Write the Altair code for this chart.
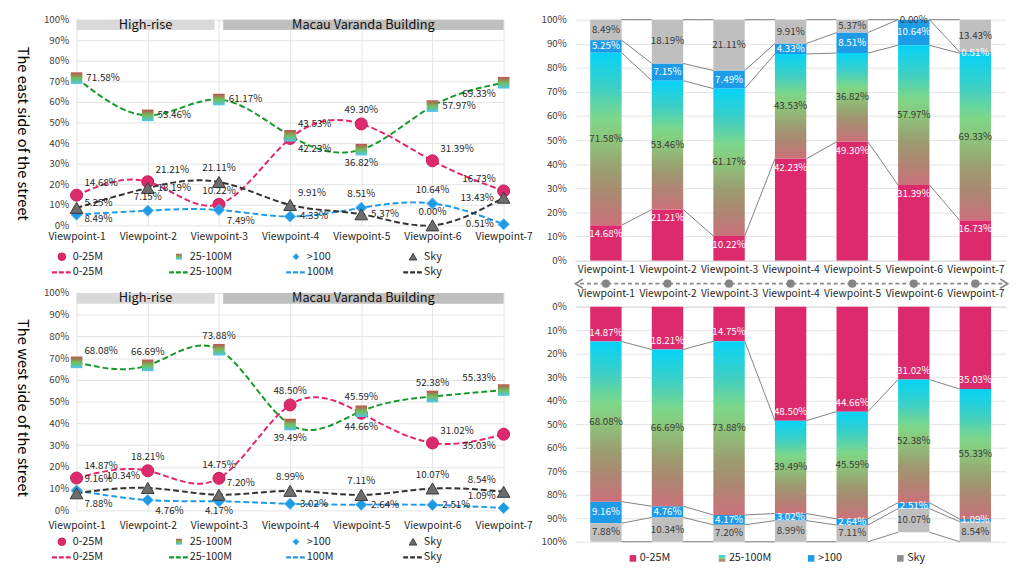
import json
import altair as alt
import pandas as pd

# ---------------- data ----------------
VIEWPOINTS = ["Viewpoint-1", "Viewpoint-2", "Viewpoint-3", "Viewpoint-4",
              "Viewpoint-5", "Viewpoint-6", "Viewpoint-7"]
SERIES = ["0-25M", "25-100M", ">100", "Sky"]
LINE_LEGEND = ["0-25M", "25-100M", "100M", "Sky"]
BAR_LEGEND = ["0-25M", "25-100M", ">100", "Sky"]
BUILDINGS = ["High-rise", "Macau Varanda Building"]
BUILDING_VIEWPOINTS = [[0, 1], [2, 3, 4, 5, 6]]
SIDE_TITLES = ["The east side of the street", "The west side of the street"]

EAST_0_25 = [14.68, 21.21, 10.22, 42.23, 49.30, 31.39, 16.73]
EAST_25_100 = [71.58, 53.46, 61.17, 43.53, 36.82, 57.97, 69.33]
EAST_GT100 = [5.25, 7.15, 7.49, 4.33, 8.51, 10.64, 0.51]
EAST_SKY = [8.49, 18.19, 21.11, 9.91, 5.37, 0.00, 13.43]

WEST_0_25 = [14.87, 18.21, 14.75, 48.50, 44.66, 31.02, 35.03]
WEST_25_100 = [68.08, 66.69, 73.88, 39.49, 45.59, 52.38, 55.33]
WEST_GT100 = [9.16, 4.76, 4.17, 3.02, 2.64, 2.51, 1.09]
WEST_SKY = [7.88, 10.34, 7.20, 8.99, 7.11, 10.07, 8.54]

# ---------------- styles ----------------
FONT = "Noto Sans CJK SC"
PINK = "#dc2a6c"
BLUE = "#1e9be6"
SKY_GRAY = "#bfbfbf"
LINE_COLORS = {"0-25M": "#e2256c", "25-100M": "#16982b", ">100": "#1f9ae8", "Sky": "#333333"}
BAR_FILL = {"0-25M": PINK, ">100": BLUE, "Sky": SKY_GRAY}
BAR_TEXT = {"0-25M": "#ffffff", "25-100M": "#3a3a3a", ">100": "#ffffff", "Sky": "#3a3a3a"}
GRID = "#e3e3e3"
TXT = "#262626"

BAR_GRAD = alt.Gradient(
    gradient="linear", x1=0, x2=0, y1=1, y2=0,
    stops=[alt.GradientStop(color="#cc717a", offset=0),
           alt.GradientStop(color="#b08473", offset=0.15),
           alt.GradientStop(color="#9d9a70", offset=0.3),
           alt.GradientStop(color="#8cc67a", offset=0.5),
           alt.GradientStop(color="#7cd78a", offset=0.62),
           alt.GradientStop(color="#3ccfc6", offset=0.8),
           alt.GradientStop(color="#05d3f7", offset=1)])
SQ_GRAD = alt.Gradient(
    gradient="linear", x1=0, x2=0, y1=0, y2=1,
    stops=[alt.GradientStop(color="#c0504d", offset=0),
           alt.GradientStop(color="#6fbf5a", offset=0.5),
           alt.GradientStop(color="#4dc6f0", offset=1)])

MARKER_STYLE = {
    "0-25M": dict(shape="circle", size=150, fill=PINK, stroke="#c41d5c", strokeWidth=1),
    "25-100M": dict(shape="square", size=140, fill=SQ_GRAD, strokeWidth=0),
    ">100": dict(shape="diamond", size=130, fill=BLUE, stroke="#5ab4ee", strokeWidth=1),
    "Sky": dict(shape="triangle-up", size=170, fill="#6d6d6d", stroke="#3a3a3a", strokeWidth=1),
}
LEGEND_MARKER_SIZE = {"0-25M": 60, "25-100M": 36, ">100": 40, "Sky": 60}

# where each data label sits relative to its marker
PLACE = {"a": (0, -14, "center"), "b": (0, 14, "center"), "bs": (0, 10, "center"),
         "r": (10, 0, "left"), "l": (-10, 0, "right"), "ar": (8, -12, "left"),
         "al": (-8, -12, "right"), "br": (8, 11, "left"), "bl": (-8, 12, "right")}
TOP_PLACE = {
    "0-25M": ["ar", "ar", "a", "br", "a", "ar", "al"],
    "25-100M": ["r", "r", "r", "ar", "b", "r", "bl"],
    ">100": ["ar", "a", "br", "r", "a", "a", "l"],
    "Sky": ["br", "r", "a", "ar", "r", "a", "l"],
}
BOTTOM_PLACE = {
    "0-25M": ["ar", "a", "a", "a", "b", "ar", "bl"],
    "25-100M": ["ar", "a", "a", "b", "a", "a", "al"],
    ">100": ["ar", "br", "bs", "r", "r", "r", "al"],
    "Sky": ["br", "al", "ar", "a", "a", "a", "al"],
}

LABEL_EXPR = "%s[datum.value]" % json.dumps(VIEWPOINTS)


def long_frame(cols):
    rows = []
    for s, vals in zip(SERIES, cols):
        for i, v in enumerate(vals):
            rows.append({"idx": i, "series": s, "value": v, "label": f"{v:.2f}%"})
    return pd.DataFrame(rows)


# ---------------- line charts ----------------
def x_line(field, pad):
    return alt.X(field, type="quantitative",
                 scale=alt.Scale(domain=[0, 6], nice=False, zero=False),
                 axis=alt.Axis(values=list(range(7)), labelExpr=LABEL_EXPR, title=None,
                               grid=True, gridColor=GRID, ticks=False, domain=False,
                               labelPadding=pad, labelFontSize=10.5, labelColor=TXT,
                               labelFlush=False, labelOverlap=False))


def y_line(field, title, title_y):
    return alt.Y(field, type="quantitative",
                 scale=alt.Scale(domain=[0, 100], nice=False, zero=True),
                 axis=alt.Axis(values=list(range(0, 101, 10)), labelExpr="datum.value + '%'",
                               grid=True, gridColor=GRID, ticks=False, domain=False,
                               labelPadding=8, labelFontSize=10, labelColor="#404040",
                               labelFlush=False, labelOverlap=False,
                               title=title, titleAngle=90, titleX=-55, titleY=title_y,
                               titleFontSize=15, titleFontWeight="normal", titleColor="#000000",
                               titleBaseline="middle"))


def line_chart(cols, height, place, title, title_y, xpad):
    df = long_frame(cols)
    X = x_line("idx", xpad)
    Y = y_line("value", title, title_y)

    gap = 0.06
    brows = []
    for g, (name, vps) in enumerate(zip(BUILDINGS, BUILDING_VIEWPOINTS)):
        x0 = vps[0] + (gap if g > 0 else 0)
        x1 = BUILDING_VIEWPOINTS[g + 1][0] - gap if g + 1 < len(BUILDINGS) else vps[-1]
        brows.append({"name": name, "x0": x0, "x1": x1, "xm": (x0 + x1) / 2,
                      "y0": 95, "y1": 100, "ym": 97.5,
                      "fill": "#d9d9d9" if g == 0 else "#bfbfbf"})
    bdf = pd.DataFrame(brows)

    layers = []
    layers.append(alt.Chart(bdf).mark_rect().encode(
        x=x_line("x0", xpad), x2="x1", y=y_line("y0", title, title_y), y2="y1",
        fill=alt.Fill("fill:N", scale=None)))
    layers.append(alt.Chart(bdf).mark_text(fontSize=13, color="#111111", baseline="middle").encode(
        x=x_line("xm", xpad), y=y_line("ym", title, title_y), text="name:N"))

    for s in SERIES:
        sub = df[df.series == s]
        layers.append(alt.Chart(sub).mark_line(
            interpolate="natural", strokeDash=[6, 3], strokeWidth=2,
            color=LINE_COLORS[s]).encode(x=X, y=Y))
    for s in SERIES:
        sub = df[df.series == s]
        layers.append(alt.Chart(sub).mark_point(filled=True, opacity=1, **MARKER_STYLE[s]).encode(x=X, y=Y))
    for s in SERIES:
        sub = df[df.series == s]
        for code in sorted(set(place[s])):
            idxs = [i for i, c in enumerate(place[s]) if c == code]
            dx, dy, al = PLACE[code]
            layers.append(alt.Chart(sub[sub.idx.isin(idxs)]).mark_text(
                dx=dx, dy=dy, align=al, baseline="middle", fontSize=10, color=TXT).encode(
                x=X, y=Y, text="label:N"))
    return alt.layer(*layers).properties(width=436, height=height)


def line_legend():
    X = alt.X("i:Q", scale=alt.Scale(domain=[0.1255, 3.774], nice=False, zero=False), axis=None)
    Y = alt.Y("row:O", scale=alt.Scale(type="point", domain=["m", "l"], range=[12, 28], padding=0),
              axis=None)
    mk = pd.DataFrame({"i": list(range(4)), "row": "m", "name": SERIES})
    ln = pd.DataFrame({"i": list(range(4)), "row": "l", "name": LINE_LEGEND,
                       "color": [LINE_COLORS[s] for s in SERIES]})
    layers = []
    for k, s in enumerate(SERIES):
        st = dict(MARKER_STYLE[s])
        st["size"] = LEGEND_MARKER_SIZE[s]
        layers.append(alt.Chart(mk[mk.i == k]).mark_point(filled=True, opacity=1, **st).encode(x=X, y=Y))
    layers.append(alt.Chart(ln).mark_point(shape="M-1,0L1,0", size=400, filled=False, opacity=1,
                                           strokeDash=[5, 2], strokeWidth=2.2).encode(
        x=X, y=Y, stroke=alt.Stroke("color:N", scale=None)))
    both = pd.concat([mk, ln])
    layers.append(alt.Chart(both).mark_text(align="left", dx=11, baseline="middle",
                                            fontSize=11, color=TXT).encode(x=X, y=Y, text="name:N"))
    return alt.layer(*layers).properties(width=436, height=29)


# ---------------- bar charts ----------------
HW = 0.255


def bar_chart(cols, height, reverse, orient, xpad):
    rows = []
    cum = [[0.0] * 7]
    for s, vals in zip(SERIES, cols):
        prev = cum[-1]
        nxt = [p + v for p, v in zip(prev, vals)]
        for i in range(7):
            rows.append({"idx": i, "series": s, "lo": prev[i], "hi": nxt[i],
                         "mid": (prev[i] + nxt[i]) / 2, "x0": i - HW, "x1": i + HW,
                         "label": f"{vals[i]:.2f}%", "fill": BAR_FILL.get(s, "#000"),
                         "tcol": BAR_TEXT[s]})
        cum.append(nxt)
    df = pd.DataFrame(rows)
    lrows = []
    for k in range(1, 5):
        c = cum[k]
        for i in range(6):
            lrows.append({"xa": i + HW, "xb": i + 1 - HW, "ya": c[i], "yb": c[i + 1]})
    ldf = pd.DataFrame(lrows)

    def X(field):
        return alt.X(field, type="quantitative",
                     scale=alt.Scale(domain=[-0.5, 6.5], nice=False, zero=False),
                     axis=alt.Axis(values=list(range(7)), labelExpr=LABEL_EXPR, title=None,
                                   orient=orient, grid=False, ticks=False, domain=True,
                                   domainColor="#d9d9d9", labelPadding=xpad, labelFontSize=10.5,
                                   labelColor=TXT, labelFlush=False, labelOverlap=False))

    def Y(field):
        return alt.Y(field, type="quantitative",
                     scale=alt.Scale(domain=[0, 100], nice=False, reverse=reverse),
                     axis=alt.Axis(values=list(range(0, 101, 10)), labelExpr="datum.value + '%'",
                                   title=None, grid=True, gridColor=GRID, ticks=False, domain=False,
                                   labelPadding=9, labelFontSize=10, labelColor="#404040",
                                   labelFlush=False, labelOverlap=False))

    solid = df[df.series != "25-100M"]
    grad = df[df.series == "25-100M"]
    layers = [
        alt.Chart(solid).mark_rect().encode(x=X("x0"), x2="x1", y=Y("lo"), y2="hi",
                                            fill=alt.Fill("fill:N", scale=None)),
        alt.Chart(grad).mark_rect(fill=BAR_GRAD).encode(x=X("x0"), x2="x1", y=Y("lo"), y2="hi"),
        alt.Chart(ldf).mark_rule(color="#808080", strokeWidth=1).encode(
            x=X("xa"), x2="xb", y=Y("ya"), y2="yb"),
    ]
    pink = df[df.series == "0-25M"]
    rest = df[df.series != "0-25M"]
    layers.append(alt.Chart(pink).mark_text(dy=(-9 if reverse else 9), baseline="middle",
                                            fontSize=10).encode(
        x=X("idx"), y=Y("hi"), text="label:N", color=alt.Color("tcol:N", scale=None)))
    layers.append(alt.Chart(rest).mark_text(baseline="middle", fontSize=10).encode(
        x=X("idx"), y=Y("mid"), text="label:N", color=alt.Color("tcol:N", scale=None)))
    return alt.layer(*layers).properties(width=440, height=height)


def arrow_strip():
    X = alt.X("x:Q", scale=alt.Scale(domain=[-0.5, 6.5], nice=False, zero=False), axis=None)
    Y = alt.Y("y:Q", scale=alt.Scale(domain=[-1, 1]), axis=None)
    ends = pd.DataFrame({"x": [-0.42], "x2": [6.45], "y": [0]})
    dots = pd.DataFrame({"x": list(range(len(VIEWPOINTS))), "y": 0})
    left = pd.DataFrame({"x": [-0.42], "y": [0]})
    right = pd.DataFrame({"x": [6.45], "y": [0]})
    layers = [
        alt.Chart(ends).mark_rule(color="#8a8a8a", strokeDash=[4, 3], strokeWidth=1.6).encode(
            x=X, x2="x2", y=Y),
        alt.Chart(dots).mark_point(shape="circle", size=70, filled=True, opacity=1,
                                   color="#858585").encode(x=X, y=Y),
        alt.Chart(left).mark_point(shape="M0.6,-1L-1,0L0.6,1", size=90, filled=False, opacity=1,
                                   color="#8a8a8a", strokeWidth=1.8).encode(x=X, y=Y),
        alt.Chart(right).mark_point(shape="M-0.6,-1L1,0L-0.6,1", size=90, filled=False, opacity=1,
                                    color="#8a8a8a", strokeWidth=1.8).encode(x=X, y=Y),
    ]
    return alt.layer(*layers).properties(width=440, height=27)


def bar_legend():
    X = alt.X("i:Q", scale=alt.Scale(domain=[-0.648, 4.187], nice=False, zero=False), axis=None)
    Y = alt.Y("y:Q", scale=alt.Scale(domain=[-1, 1]), axis=None)
    df = pd.DataFrame({"i": list(range(4)), "y": 0, "name": BAR_LEGEND,
                       "fill": [PINK, "#000", BLUE, "#8c8c8c"]})
    layers = [
        alt.Chart(df[df.i != 1]).mark_point(shape="square", size=45, filled=True, opacity=1).encode(
            x=X, y=Y, fill=alt.Fill("fill:N", scale=None)),
        alt.Chart(df[df.i == 1]).mark_point(shape="square", size=45, filled=True, opacity=1,
                                            fill=BAR_GRAD).encode(x=X, y=Y),
        alt.Chart(df).mark_text(align="left", dx=7, baseline="middle", fontSize=11,
                                color=TXT).encode(x=X, y=Y, text="name:N"),
    ]
    return alt.layer(*layers).properties(width=440, height=14)


east_cols = [EAST_0_25, EAST_25_100, EAST_GT100, EAST_SKY]
west_cols = [WEST_0_25, WEST_25_100, WEST_GT100, WEST_SKY]

left_col = alt.vconcat(
    line_chart(east_cols, 210, TOP_PLACE, SIDE_TITLES[0], 116, 6),
    line_legend(),
    line_chart(west_cols, 222, BOTTOM_PLACE, SIDE_TITLES[1], 117, 10),
    line_legend(),
    spacing=20, bounds="flush")

right_col = alt.vconcat(
    bar_chart(east_cols, 246, False, "bottom", 4),
    arrow_strip(),
    bar_chart(west_cols, 240, True, "top", 8),
    bar_legend(),
    spacing=10, bounds="flush")

chart = alt.hconcat(left_col, right_col, spacing=7).properties(
    padding={"left": 6, "top": 0, "right": 0, "bottom": 0}
).configure(font=FONT).configure_view(stroke="transparent")

chart.save("out.html", embed_options={"renderer": "svg", "actions": False})
